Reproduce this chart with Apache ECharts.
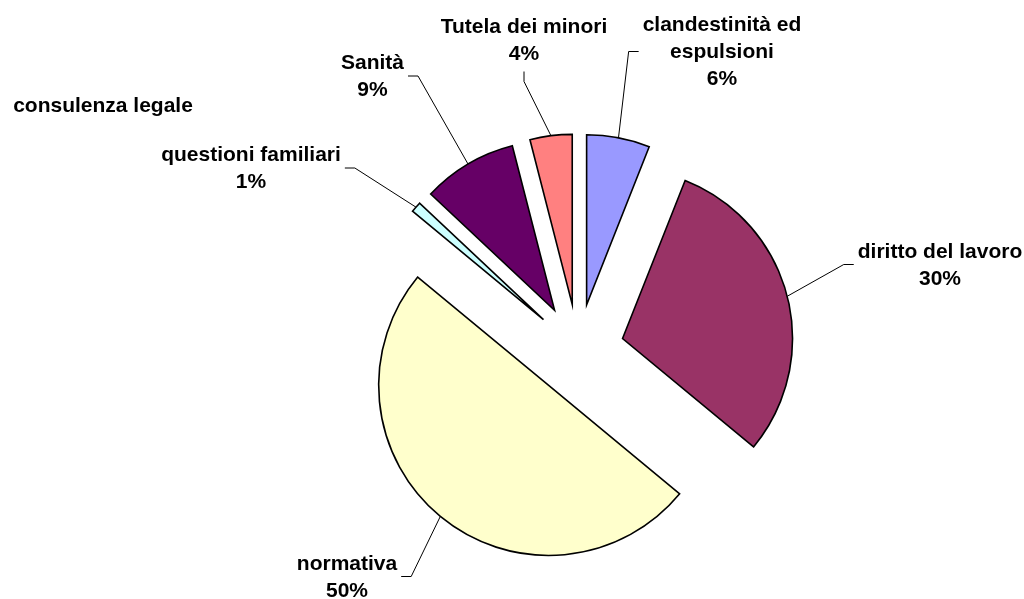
<!DOCTYPE html>
<html><head><meta charset="utf-8">
<script src="https://cdn.jsdelivr.net/npm/echarts@6/dist/echarts.min.js"></script>
<style>html,body{margin:0;padding:0;background:#fff}#chart{width:1024px;height:599px}</style>
</head><body><div id="chart"></div>
<script>
// ---- data ----
const categories = ['clandestinità ed\nespulsioni', 'diritto del lavoro', 'normativa', 'consulenza legale', 'questioni familiari', 'Sanità', 'Tutela dei minori'];
const values = [6, 30, 50, 0, 1, 9, 4];

// ---- style / layout ----
const palette = ['#9999FF', '#993366', '#FFFFCC', '#FFFFFF', '#CCFFFF', '#660066', '#FF8080'];
const CENTER = [578, 350], RADIUS = 170, OFFSET = 46;
const labelPlacement = [
  { x: 722, y: 52.5, side: 'left' },
  { x: 940, y: 265.5, side: 'left' },
  { x: 347, y: 577.5, side: 'right' },
  { x: 103, y: 106.7, side: 'none' },
  { x: 251, y: 169, side: 'right' },
  { x: 372.5, y: 77, side: 'right' },
  { x: 524, y: 40.5, side: 'bottom' }
];

const total = values.reduce((a, b) => a + b, 0);
const before = [];
let acc = 0;
values.forEach(v => { before.push(acc); acc += v; });

// Each slice is drawn by its own pie series (slice + transparent remainder),
// shifted outward along its mid-angle to reproduce the exploded pie.
const series = categories.map((name, i) => {
  const th = (before[i] + values[i] / 2) / total * 2 * Math.PI;
  const dir = [Math.sin(th), -Math.cos(th)];
  const c = [CENTER[0] + OFFSET * dir[0], CENTER[1] + OFFSET * dir[1]];
  const p = labelPlacement[i];
  return {
    type: 'pie',
    center: c,
    radius: [0, RADIUS],
    startAngle: 90 - before[i] / total * 360,
    clockwise: true,
    avoidLabelOverlap: false,
    silent: true,
    animation: false,
    itemStyle: { borderColor: '#000', borderWidth: 1.6, borderJoin: 'miter' },
    label: {
      show: true,
      position: 'outside',
      color: '#000',
      fontFamily: 'Liberation Sans, Arial, sans-serif',
      fontWeight: 'bold',
      fontSize: 21,
      lineHeight: 27,
      align: 'center',
      formatter: q => q.value > 0 ? q.name + '\n' + Math.round(q.percent) + '%' : q.name
    },
    labelLine: { show: true, lineStyle: { color: '#000', width: 1 } },
    labelLayout: function (params) {
      if (params.dataIndex !== 0) return {};
      const res = { x: p.x, y: p.y, align: 'center', verticalAlign: 'middle' };
      if (p.side === 'none') return res;
      const w = params.labelRect.width, h = params.labelRect.height;
      let end, bend;
      if (p.side === 'left') { end = [p.x - w / 2 - 4, p.y - 1]; bend = [end[0] - 10, end[1]]; }
      else if (p.side === 'right') { end = [p.x + w / 2 + 4, p.y - 1]; bend = [end[0] + 10, end[1]]; }
      else { end = [p.x, p.y + h / 2 + 4]; bend = [end[0], end[1] + 10]; }
      const start = [c[0] + RADIUS * dir[0], c[1] + RADIUS * dir[1]];
      res.labelLinePoints = [start, bend, end];
      return res;
    },
    data: [
      {
        name: name,
        value: values[i],
        itemStyle: values[i] > 0 ? { color: palette[i] } : { color: 'transparent', borderWidth: 0 },
        labelLine: { show: values[i] > 0 }
      },
      {
        name: '',
        value: total - values[i],
        itemStyle: { color: 'transparent', borderWidth: 0 },
        label: { show: false },
        labelLine: { show: false }
      }
    ]
  };
});

const chart = echarts.init(document.getElementById('chart'));
chart.setOption({ animation: false, backgroundColor: '#fff', series: series });
</script>
</body></html>
